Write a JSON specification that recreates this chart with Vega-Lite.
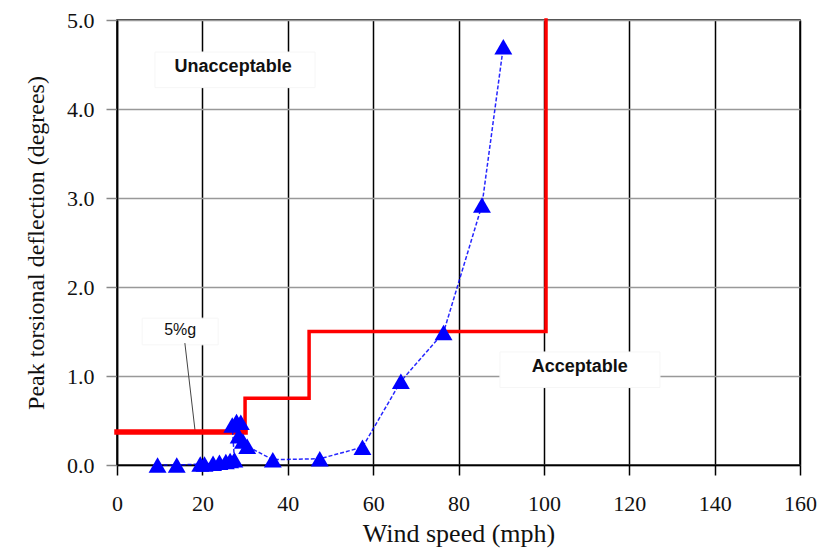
{
  "$schema": "https://vega.github.io/schema/vega-lite/v6.json",
  "width": 683,
  "height": 445,
  "autosize": {"type": "none"},
  "padding": {"left": 117, "top": 20, "right": 32, "bottom": 92},
  "background": "white",
  "config": {
    "view": {"stroke": "black", "strokeWidth": 1.5},
    "axis": {"labelFont": "Liberation Serif", "titleFont": "Liberation Serif", "labelColor": "#111", "titleColor": "#111", "titleFontWeight": "normal"}
  },
  "datasets": {
    "blue": [
      {"o": 1, "x": 9.5, "y": 0.0},
      {"o": 2, "x": 14, "y": 0.0},
      {"o": 3, "x": 19.5, "y": 0.01},
      {"o": 4, "x": 20.5, "y": 0.01},
      {"o": 5, "x": 22.5, "y": 0.02},
      {"o": 6, "x": 24, "y": 0.03},
      {"o": 7, "x": 25.5, "y": 0.04},
      {"o": 8, "x": 26.5, "y": 0.05},
      {"o": 9, "x": 27.5, "y": 0.06},
      {"o": 10, "x": 27, "y": 0.45},
      {"o": 11, "x": 28, "y": 0.49},
      {"o": 12, "x": 29, "y": 0.48},
      {"o": 13, "x": 28.5, "y": 0.33},
      {"o": 14, "x": 29.5, "y": 0.27},
      {"o": 15, "x": 30.5, "y": 0.21},
      {"o": 16, "x": 36.5, "y": 0.06},
      {"o": 17, "x": 47.5, "y": 0.07},
      {"o": 18, "x": 57.5, "y": 0.2},
      {"o": 19, "x": 66.5, "y": 0.94},
      {"o": 20, "x": 76.5, "y": 1.49},
      {"o": 21, "x": 85.5, "y": 2.92},
      {"o": 22, "x": 90.5, "y": 4.7}
    ],
    "red": [
      {"s": "a", "o": 1, "x": 0, "y": 0.37},
      {"s": "a", "o": 2, "x": 30, "y": 0.37},
      {"s": "b", "o": 1, "x": 30, "y": 0.37},
      {"s": "b", "o": 2, "x": 30, "y": 0.75},
      {"s": "b", "o": 3, "x": 45, "y": 0.75},
      {"s": "b", "o": 4, "x": 45, "y": 1.5},
      {"s": "b", "o": 5, "x": 100.5, "y": 1.5},
      {"s": "b", "o": 6, "x": 100.5, "y": 5.0}
    ],
    "boxes": [
      {"label": "Unacceptable", "x1": 8.9, "x2": 46.4, "y1": 4.24, "y2": 4.64, "tx": 27.2, "ty": 4.47, "w": "bold"},
      {"label": "Acceptable", "x1": 89.7, "x2": 127.2, "y1": 0.87, "y2": 1.27, "tx": 108.4, "ty": 1.1, "w": "bold"},
      {"label": "5%g", "x1": 5.9, "x2": 23.7, "y1": 1.35, "y2": 1.65, "tx": 14.8, "ty": 1.52, "w": "normal"}
    ],
    "leader": [
      {"x": 15.9, "y": 1.37, "x2": 18.3, "y2": 0.38}
    ]
  },
  "layer": [
    {
      "data": {"name": "boxes"},
      "mark": {"type": "rect", "fill": "white", "stroke": "#f6f6f6", "strokeWidth": 1},
      "encoding": {
        "x": {"field": "x1", "type": "quantitative", "scale": {"domain": [0, 160]},
          "axis": {"values": [0, 20, 40, 60, 80, 100, 120, 140, 160], "title": "Wind speed (mph)", "titleFontSize": 26, "labelFontSize": 22, "grid": true, "gridColor": "black", "gridWidth": 1.5, "gridOpacity": 1, "domainColor": "black", "domainWidth": 1.5, "tickColor": "black", "tickWidth": 1.5, "tickSize": 10, "labelPadding": 18, "titlePadding": 6, "labelFlush": false}},
        "x2": {"field": "x2"},
        "y": {"field": "y1", "type": "quantitative", "scale": {"domain": [0, 5]},
          "axis": {"values": [0, 1, 2, 3, 4, 5], "format": ".1f", "title": "Peak torsional deflection (degrees)", "titleFontSize": 24, "labelFontSize": 22, "grid": true, "gridColor": "#999", "gridWidth": 1.5, "gridOpacity": 1, "domainColor": "black", "domainWidth": 1.5, "tickColor": "#888", "tickWidth": 1.5, "tickSize": 11, "labelPadding": 12, "titlePadding": 18}},
        "y2": {"field": "y2"}
      }
    },
    {
      "data": {"name": "leader"},
      "mark": {"type": "rule", "color": "#444", "strokeWidth": 1},
      "encoding": {
        "x": {"field": "x", "type": "quantitative"},
        "y": {"field": "y", "type": "quantitative"},
        "x2": {"field": "x2"},
        "y2": {"field": "y2"}
      }
    },
    {
      "data": {"name": "red"},
      "mark": {"type": "line", "color": "#ff0000", "strokeCap": "square", "strokeJoin": "miter"},
      "encoding": {
        "x": {"field": "x", "type": "quantitative"},
        "y": {"field": "y", "type": "quantitative"},
        "detail": {"field": "s"},
        "order": {"field": "o"},
        "strokeWidth": {"field": "s", "type": "nominal", "scale": {"domain": ["a", "b"], "range": [5.5, 3.5]}, "legend": null}
      }
    },
    {
      "data": {"name": "blue"},
      "mark": {"type": "line", "color": "#0000ff", "strokeWidth": 1.5, "strokeDash": [4, 2], "opacity": 0.85},
      "encoding": {
        "x": {"field": "x", "type": "quantitative"},
        "y": {"field": "y", "type": "quantitative"},
        "order": {"field": "o"}
      }
    },
    {
      "data": {"name": "blue"},
      "mark": {"type": "point", "shape": "triangle-up", "filled": true, "color": "#0000ff", "size": 320, "opacity": 1},
      "encoding": {
        "x": {"field": "x", "type": "quantitative"},
        "y": {"field": "y", "type": "quantitative"}
      }
    },
    {
      "data": {"name": "boxes"},
      "transform": [{"filter": "datum.w === 'bold'"}],
      "mark": {"type": "text", "font": "Liberation Sans", "fontSize": 18, "fontWeight": "bold", "color": "#111", "align": "center", "baseline": "middle"},
      "encoding": {
        "x": {"field": "tx", "type": "quantitative"},
        "y": {"field": "ty", "type": "quantitative"},
        "text": {"field": "label"}
      }
    },
    {
      "data": {"name": "boxes"},
      "transform": [{"filter": "datum.w !== 'bold'"}],
      "mark": {"type": "text", "font": "Liberation Sans", "fontSize": 16, "color": "#111", "align": "center", "baseline": "middle"},
      "encoding": {
        "x": {"field": "tx", "type": "quantitative"},
        "y": {"field": "ty", "type": "quantitative"},
        "text": {"field": "label"}
      }
    }
  ]
}
